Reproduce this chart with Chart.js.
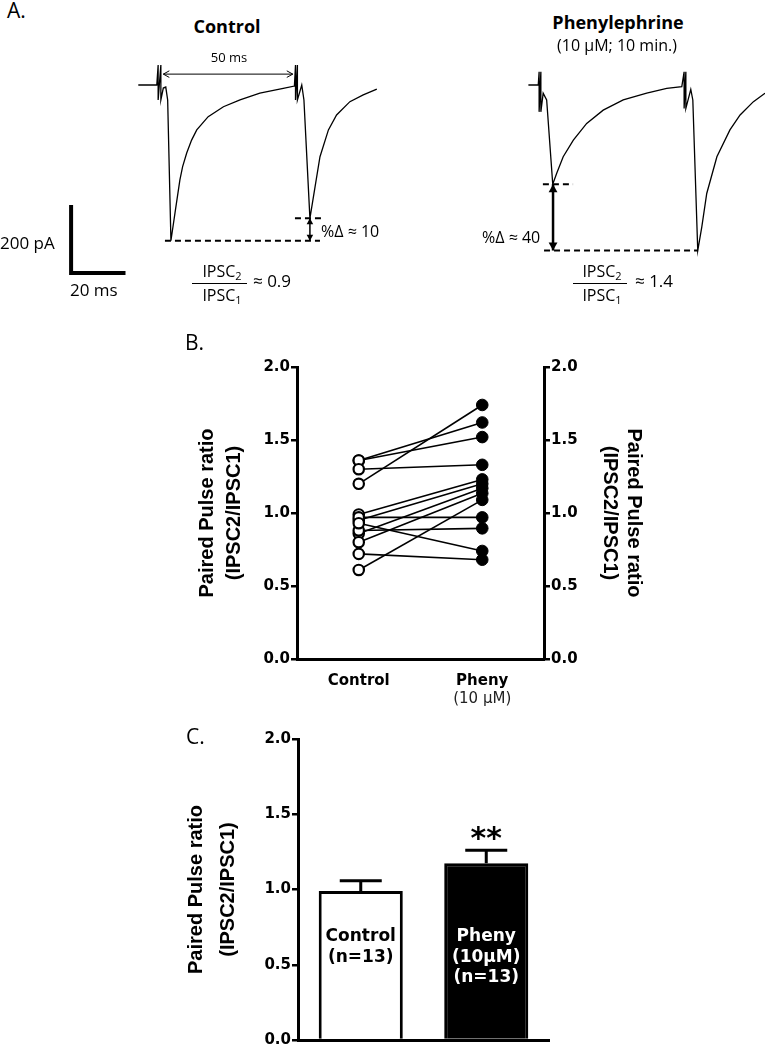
<!DOCTYPE html>
<html>
<head>
<meta charset="utf-8">
<script src="https://cdn.jsdelivr.net/npm/chart.js@4.4.0/dist/chart.umd.min.js"></script>
<style>
  body { margin: 0; background: #fff; }
  #fig { position: relative; width: 765px; height: 1050px; overflow: hidden; font-family: "Open Sans", sans-serif; color: #000; }
  canvas { position: absolute; }
  .t { position: absolute; white-space: nowrap; line-height: 1; }
  .c { transform: translateX(-50%); }
  .b { font-weight: bold; }
  .t sub { font-size: 11px; vertical-align: -3px; line-height: 0; }
  .rule { position: absolute; height: 0; border-top: 1px solid #000; }
</style>
</head>
<body>
<div id="fig">
  <canvas id="controlTrace" width="395" height="240" style="left:0;top:50px"></canvas>
  <canvas id="phenyTrace" width="265" height="250" style="left:500px;top:50px"></canvas>
  <canvas id="pairChart" width="480" height="375" style="left:180px;top:345px"></canvas>
  <canvas id="barChart" width="450" height="335" style="left:150px;top:715px"></canvas>

  <div class="t" style="left:7px;top:0;font-size:21px">A.</div>
  <div class="t c b" style="left:227px;top:17px;font-size:18px">Control</div>
  <div class="t c b" style="left:618px;top:13px;font-size:18px">Phenylephrine</div>
  <div class="t c" style="left:617px;top:37px;font-size:16px">(10 μM; 10 min.)</div>
  <div class="t c" style="left:229px;top:51px;font-size:13px">50 ms</div>
  <div class="t" style="left:321px;top:223px;font-size:16px">%Δ ≈ 10</div>
  <div class="t" style="left:482px;top:229px;font-size:16px">%Δ ≈ 40</div>
  <div class="t" style="left:0;top:234px;font-size:17px">200 pA</div>
  <div class="t" style="left:70px;top:281px;font-size:17px">20 ms</div>

  <div class="t c" style="left:222px;top:263px;font-size:16px">IPSC<sub>2</sub></div>
  <div class="rule" style="left:192px;top:283px;width:55px"></div>
  <div class="t c" style="left:222px;top:287px;font-size:16px">IPSC<sub>1</sub></div>
  <div class="t" style="left:253px;top:272px;font-size:17px">≈ 0.9</div>

  <div class="t c" style="left:602px;top:263px;font-size:16px">IPSC<sub>2</sub></div>
  <div class="rule" style="left:573px;top:283px;width:54px"></div>
  <div class="t c" style="left:602px;top:287px;font-size:16px">IPSC<sub>1</sub></div>
  <div class="t" style="left:635px;top:272px;font-size:17px">≈ 1.4</div>

  <div class="t" style="left:185px;top:332px;font-size:21px">B.</div>
  <div class="t" style="left:186px;top:726px;font-size:21px">C.</div>
</div>

<script>
const BLACK = '#000';

// A. example traces: time in ms from the first stimulus, current in pA
const controlTime = [-7.8, -1.0, -0.5, -0.5, 0.5, 0.5, 1.4, 2.3, 3.0, 4.2, 5.7, 7.5, 8.5, 10.0, 11.8, 13.7, 17.9, 23.5, 29.6, 36.9, 45.5, 49.6,
  50.0, 50.0, 50.7, 50.7, 52.3, 53.1, 55.3, 57.2, 59.0, 62.1, 65.1, 70.0, 74.9, 79.9];
const controlCurrent = [0, 0, 59, -44, 59, -44, -9, -6, -44, -458, -376, -279, -240, -200, -162, -132, -93, -64, -44, -24, -10, -3,
  59, -44, 59, -44, 0, -44, -392, -299, -211, -132, -88, -49, -29, -12];
const phenyTime = [-4.0, -0.6, -0.3, -0.3, 0.3, 0.3, 1.1, 2.3, 4.4, 5.8, 8.0, 11.5, 16.1, 21.8, 28.7, 36.8, 43.7, 48.9,
  49.7, 49.7, 50.3, 50.3, 52.0, 52.7, 54.4, 55.8, 57.5, 61.0, 65.5, 69.0, 73.6, 77.6];
const phenyCurrent = [0, 0, 39, -79, 39, -79, -24, -44, -292, -259, -211, -162, -113, -74, -44, -24, -10, -5,
  39, -69, 39, -69, -13, -44, -487, -417, -319, -211, -132, -88, -49, -24];
const scaleBarMs = 20;
const scaleBarPa = 200;

// B. paired pulse ratio of each cell
const pairLabels = ['Control', 'Pheny'];
const pairSubLabels = ['', '(10 μM)'];
const controlPPR = [1.36, 1.36, 1.30, 1.20, 0.99, 0.95, 0.86, 0.80, 0.61, 0.97, 0.88, 0.93, 0.72];
const phenyPPR = [1.62, 1.52, 1.33, 1.74, 1.23, 1.20, 1.17, 1.135, 1.09, 0.97, 0.895, 0.74, 0.68];

// C. mean and SEM
const barLabels = ['Control', 'Pheny'];
const barMeans = [0.99, 1.175];
const barSem = [0.068, 0.085];
const barInnerText = [['Control', '(n=13)'], ['Pheny', '(10μM)', '(n=13)']];
const barMarks = ['', '**'];

const yTicks = [0, 0.5, 1.0, 1.5, 2.0];
const yTitle = ['Paired Pulse ratio', '(IPSC2/IPSC1)'];

Chart.defaults.animation = false;
Chart.defaults.plugins.legend.display = false;
Chart.defaults.plugins.tooltip.enabled = false;

const toXY = (xs, ys) => xs.map((x, i) => ({x: x, y: ys[i]}));

// arrow heads at both ends of datasets that ask for them
function drawHead(ctx, tip, from, opt) {
    const ang = Math.atan2(tip.y - from.y, tip.x - from.x);
    const s = opt.size, w = opt.size * 0.55;
    ctx.save();
    ctx.translate(tip.x, tip.y);
    ctx.rotate(ang);
    ctx.beginPath();
    ctx.moveTo(-s, -w);
    ctx.lineTo(0, 0);
    ctx.lineTo(-s, w);
    if (opt.open) {
        ctx.lineWidth = 1;
        ctx.strokeStyle = BLACK;
        ctx.stroke();
    } else {
        ctx.closePath();
        ctx.fillStyle = BLACK;
        ctx.fill();
    }
    ctx.restore();
}

const arrowHeads = {
    id: 'arrowHeads',
    afterDatasetsDraw(chart) {
        chart.data.datasets.forEach((ds, i) => {
            if (!ds.arrow) return;
            const pts = chart.getDatasetMeta(i).data;
            const a = pts[0], b = pts[pts.length - 1];
            drawHead(chart.ctx, a, b, ds.arrow);
            drawHead(chart.ctx, b, a, ds.arrow);
        });
    }
};

const traceLine = (data) => ({ data: data, showLine: true, borderColor: BLACK, borderWidth: 1.3, pointRadius: 0, clip: false });
const dashed = (data) => ({ data: data, showLine: true, borderColor: BLACK, borderWidth: 2, borderDash: [6, 4], pointRadius: 0 });

function traceChart(id, datasets, x, y) {
    return new Chart(document.getElementById(id), {
        type: 'scatter',
        data: { datasets: datasets },
        options: {
            responsive: false,
            layout: { padding: 0 },
            scales: {
                x: { type: 'linear', display: false, min: x[0], max: x[1] },
                y: { type: 'linear', display: false, min: y[0], max: y[1] }
            }
        },
        plugins: [arrowHeads]
    });
}

function peakBefore(times, currents, tmax) {
    return Math.min(...currents.filter((c, i) => times[i] < tmax));
}
function peakAfter(times, currents, tmin) {
    return Math.min(...currents.filter((c, i) => times[i] > tmin));
}

// control trace, with the scale bar
const cP1 = peakBefore(controlTime, controlCurrent, 50);
const cP2 = peakAfter(controlTime, controlCurrent, 50);
const sbT = -32.5, sbI = -553;
traceChart('controlTrace', [
    traceLine(toXY(controlTime, controlCurrent)),
    dashed([{x: 2.0, y: cP1}, {x: 59.0, y: cP1}]),
    dashed([{x: 49.8, y: cP2}, {x: 60.1, y: cP2}]),
    { data: [{x: 55.3, y: cP2}, {x: 55.3, y: cP1}], showLine: true, borderColor: BLACK, borderWidth: 1.5, pointRadius: 0, arrow: { size: 6 } },
    { data: [{x: 1.4, y: 32}, {x: 49.0, y: 32}], showLine: true, borderColor: BLACK, borderWidth: 1, pointRadius: 0, arrow: { size: 6, open: true } },
    { data: [{x: sbT, y: sbI + scaleBarPa}, {x: sbT, y: sbI}, {x: sbT + scaleBarMs, y: sbI}],
      showLine: true, borderColor: BLACK, borderWidth: 4, borderJoinStyle: 'miter', pointRadius: 0 }
], [-58.64, 86.58], [-602.9, 102.94]);

// phenylephrine trace
const pP1 = peakBefore(phenyTime, phenyCurrent, 50);
const pP2 = peakAfter(phenyTime, phenyCurrent, 50);
traceChart('phenyTrace', [
    traceLine(toXY(phenyTime, phenyCurrent)),
    dashed([{x: 1.0, y: pP1}, {x: 11.4, y: pP1}]),
    dashed([{x: 1.4, y: pP2}, {x: 54.5, y: pP2}]),
    { data: [{x: 4.5, y: pP1}, {x: 4.5, y: pP2}], showLine: true, borderColor: BLACK, borderWidth: 2.5, pointRadius: 0, arrow: { size: 8 } }
], [-13.79, 77.59], [-632.35, 102.94]);

// shared y axis style for B and C
const tickFont = { family: 'DejaVu Sans', weight: 'bold', size: 15 };
function ratioAxis(pos, width, lineHeight, titlePad) {
    return {
        position: pos,
        min: 0,
        max: 2,
        afterBuildTicks: s => { s.ticks = yTicks.map(v => ({ value: v })); },
        afterFit: s => { s.width = width; },
        ticks: { callback: v => v.toFixed(1), color: BLACK, font: tickFont, padding: 1 },
        grid: { drawOnChartArea: false, tickLength: 6, lineWidth: 2.5, color: BLACK },
        border: { display: true, width: 3, color: BLACK },
        title: {
            display: true,
            text: yTitle,
            color: BLACK,
            font: { family: 'Liberation Sans', weight: 'bold', size: 20, lineHeight: lineHeight },
            padding: { top: titlePad, bottom: 0 }
        }
    };
}

// second line under the category names
const subLabels = {
    id: 'subLabels',
    afterDraw(chart, args, opts) {
        const ctx = chart.ctx;
        const x = chart.scales.x;
        ctx.save();
        ctx.font = '15px "DejaVu Sans"';
        ctx.fillStyle = '#222';
        ctx.textAlign = 'center';
        ctx.textBaseline = 'middle';
        opts.labels.forEach((t, i) => {
            if (t) ctx.fillText(t, x.getPixelForValue(i), chart.chartArea.bottom + opts.offset);
        });
        ctx.restore();
    }
};

// B. before/after pairs
const pairDatasets = controlPPR.map((c, i) => ({
    data: [c, phenyPPR[i]], borderColor: BLACK, borderWidth: 1.6, pointRadius: 0, order: 2
}));
pairDatasets.unshift(
    { data: controlPPR.map(v => ({x: pairLabels[0], y: v})), showLine: false, pointRadius: 5.2, pointBorderWidth: 2.2,
      pointBackgroundColor: '#fff', pointBorderColor: BLACK, order: 1 },
    { data: phenyPPR.map(v => ({x: pairLabels[1], y: v})), showLine: false, pointRadius: 5.8, pointBorderWidth: 1,
      pointBackgroundColor: BLACK, pointBorderColor: BLACK, order: 1 }
);

new Chart(document.getElementById('pairChart'), {
    type: 'line',
    data: { labels: pairLabels, datasets: pairDatasets },
    options: {
        responsive: false,
        layout: { padding: { top: 22, left: 0, right: 0, bottom: 0 } },
        scales: {
            x: {
                type: 'category',
                offset: true,
                afterFit: s => { s.height = 61; },
                grid: { display: false },
                border: { display: true, width: 3, color: BLACK },
                ticks: { color: BLACK, font: { family: 'DejaVu Sans', weight: 'bold', size: 15 }, padding: 5 }
            },
            y: ratioAxis('left', 117, 1.35, 14),
            y2: ratioAxis('right', 116, 1.2, 14)
        },
        plugins: { subLabels: { labels: pairSubLabels, offset: 40 } }
    },
    plugins: [subLabels]
});

// C. error bars, labels inside the bars and significance marks
const barDecor = {
    id: 'barDecor',
    afterDatasetsDraw(chart) {
        const ctx = chart.ctx;
        const y = chart.scales.y;
        const bars = chart.getDatasetMeta(0).data;
        const base = chart.chartArea.bottom;
        ctx.save();
        ctx.strokeStyle = BLACK;
        ctx.lineWidth = 3;
        bars.forEach((bar, i) => {
            const top = y.getPixelForValue(barMeans[i]);
            const cap = y.getPixelForValue(barMeans[i] + barSem[i]);
            ctx.beginPath();
            ctx.moveTo(bar.x, top);
            ctx.lineTo(bar.x, cap);
            ctx.moveTo(bar.x - 21, cap);
            ctx.lineTo(bar.x + 21, cap);
            ctx.stroke();

            ctx.textAlign = 'center';
            ctx.textBaseline = 'middle';
            ctx.font = 'bold 17px "DejaVu Sans"';
            ctx.fillStyle = i === 0 ? BLACK : '#fff';
            barInnerText[i].forEach((line, k) => ctx.fillText(line, bar.x, base - 103 + k * 20.5));

            if (barMarks[i]) {
                ctx.fillStyle = BLACK;
                ctx.font = 'bold 30px "DejaVu Sans"';
                ctx.textBaseline = 'alphabetic';
                ctx.fillText(barMarks[i], bar.x, cap - 2);
            }
        });
        ctx.restore();
    }
};

new Chart(document.getElementById('barChart'), {
    type: 'bar',
    data: {
        labels: barLabels,
        datasets: [{
            data: barMeans,
            backgroundColor: ['#fff', BLACK],
            borderColor: BLACK,
            borderWidth: 3,
            barPercentage: 0.67,
            categoryPercentage: 1
        }]
    },
    options: {
        responsive: false,
        layout: { padding: { top: 24, left: 0, right: 51, bottom: 0 } },
        scales: {
            x: {
                afterFit: s => { s.height = 10; },
                grid: { display: false },
                border: { display: true, width: 3, color: BLACK },
                ticks: { display: false }
            },
            y: ratioAxis('left', 148, 1.6, 30)
        }
    },
    plugins: [barDecor]
});
</script>
</body>
</html>
